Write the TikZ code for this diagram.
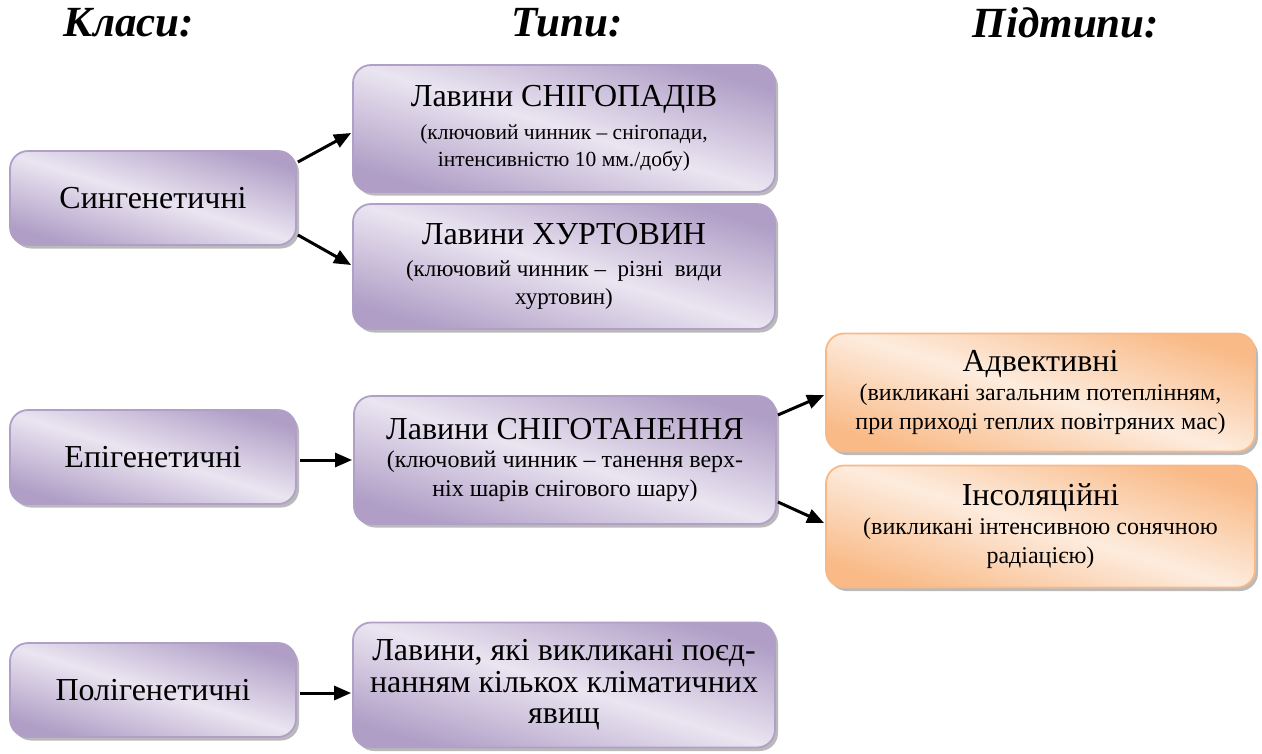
\documentclass[tikz,border=0pt]{standalone}
\usepackage{fontspec}
\setmainfont{Liberation Serif}
\usetikzlibrary{arrows.meta,calc,shadows}
\definecolor{purpDark}{RGB}{176,158,198}
\definecolor{purpLight}{RGB}{234,229,241}
\definecolor{purpLine}{RGB}{176,160,200}
\definecolor{orDark}{RGB}{249,186,135}
\definecolor{orLight}{RGB}{253,236,222}
\definecolor{orLine}{RGB}{249,185,135}
\newcommand{\bigt}{\fontsize{32}{31.5}\selectfont}
\newcommand{\smta}{\fontsize{21.5}{27.5}\selectfont}
\newcommand{\smtb}{\fontsize{23}{28.5}\selectfont}
\newcommand{\smtc}{\fontsize{24}{29.5}\selectfont}
\tikzset{
  basebox/.style={rounded corners=18pt, line width=1.8pt, inner sep=0pt, align=center,
    drop shadow={shadow xshift=3pt, shadow yshift=-3.5pt, fill=black!45, opacity=0.6}},
  purpbox/.style={basebox, draw=purpLine, top color=purpDark, bottom color=purpDark, middle color=purpLight, shading angle=-17},
  orbox/.style={basebox, draw=orLine, top color=orDark, bottom color=orDark, middle color=orLight, shading angle=-17},
  title/.style={font=\fontsize{43}{46}\selectfont\bfseries\itshape, inner sep=0pt},
  arr/.style={line width=3pt, -{Triangle[length=17pt,width=14pt]}},
}
\begin{document}
\begin{tikzpicture}[x=1pt,y=-1pt]
\useasboundingbox (0,0) rectangle (1262,753);
% titles
\node[title] (t1) at (129,23) {Класи:};
\node[title] (t2) at (567,23) {Типи:};
\node[title] (t3) at (1066,23) {Підтипи:};
% classes
\node[purpbox, font=\bigt, minimum width=286pt, minimum height=94pt] (A1) at (153,198) {Сингенетичні};
\node[purpbox, font=\bigt, minimum width=286pt, minimum height=94pt] (A2) at (153,457) {Епігенетичні};
\node[purpbox, font=\bigt, minimum width=286pt, minimum height=94pt] (A3) at (153,690) {Полігенетичні};
% types
\node[purpbox, font=\smta, minimum width=422pt, minimum height=127pt] (B1) at (564,128.5)
  {{\bigt Лавини СНІГОПАДІВ}\\[5pt] (ключовий чинник – снігопади,\\ інтенсивністю 10 мм./добу)};
\node[purpbox, font=\smtb, minimum width=422pt, minimum height=125pt] (B2) at (564,266.5)
  {{\bigt Лавини ХУРТОВИН}\\[3pt] (ключовий чинник –~~різні~~види\\ хуртовин)};
\node[purpbox, font=\smtc, minimum width=422pt, minimum height=128pt] (B3) at (565,460)
  {{\bigt Лавини СНІГОТАНЕННЯ}\\[-2pt] (ключовий чинник – танення верх-\\ ніх шарів снігового шару)};
\node[purpbox, font=\bigt, minimum width=422pt, minimum height=125pt] (B4) at (564,685)
  {Лавини, які викликані поєд-\\ нанням кількох кліматичних\\ явищ};
% subtypes
\node[orbox, font=\smtc, minimum width=429pt, minimum height=118pt] (C1) at (1040.5,392.5)
  {{\bigt Адвективні}\\[-1pt] (викликані загальним потеплінням,\\ при приході теплих повітряних мас)};
\node[orbox, font=\smtc, minimum width=429pt, minimum height=122pt] (C2) at (1040.5,526.5)
  {{\bigt Інсоляційні}\\[-1pt] (викликані інтенсивною сонячною\\ радіацією)};
% arrows
\draw[arr] ($(A1.east)+(1,-36)$) -- ($(B1.west)+(-1,4.5)$);
\draw[arr] ($(A1.east)+(1,37)$) -- ($(B2.west)+(-1,-1.5)$);
\draw[arr] ($(A2.east)+(3,3)$) -- ($(B3.west)+(-1,0)$);
\draw[arr] ($(B3.east)+(1,-45)$) -- ($(C1.west)+(-1,2.5)$);
\draw[arr] ($(B3.east)+(1,42)$) -- ($(C2.west)+(-1,-3.5)$);
\draw[arr] ($(A3.east)+(3,3)$) -- ($(B4.west)+(-1,8)$);
\end{tikzpicture}
\end{document}
